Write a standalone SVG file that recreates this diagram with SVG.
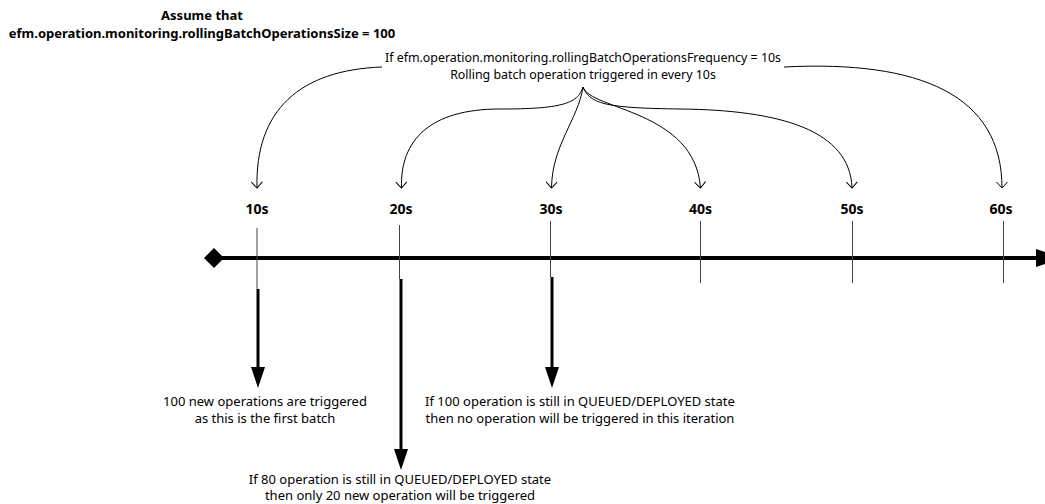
<svg xmlns="http://www.w3.org/2000/svg" width="1045" height="504" viewBox="0 0 1045 504">
  <style>
    text { font-family: "Noto Sans", "Open Sans", "Liberation Sans", sans-serif; fill: #000; }
    .note { font-size: 13px; text-anchor: middle; }
    .top { font-size: 12.4px; }
    .title { font-size: 13px; font-weight: 700; text-anchor: middle; }
    .lbl { font-size: 14px; font-weight: 700; text-anchor: middle; }
    .tick { stroke: #444; stroke-width: 1; fill: none; }
    .curve { stroke: #000; stroke-width: 1; fill: none; marker-end: url(#open); }
    .thick { stroke: #000; stroke-width: 3; fill: none; marker-end: url(#block); }
  </style>
  <defs>
    <marker id="open" viewBox="0 0 8 12" refX="7" refY="6" markerWidth="8" markerHeight="12" markerUnits="userSpaceOnUse" orient="auto">
      <path d="M1,0.5 L7,6 L1,11.5" fill="none" stroke="#000" stroke-width="1"/>
    </marker>
    <marker id="block" viewBox="0 0 21 14" refX="0" refY="7" markerWidth="21" markerHeight="14" markerUnits="userSpaceOnUse" orient="auto">
      <path d="M0,0 L21,7 L0,14 z" fill="#000"/>
    </marker>
  </defs>
  <rect width="1045" height="504" fill="#fff"/>

  <g id="title">
    <text class="title" x="202" y="20">Assume that</text>
    <text class="title" x="202" y="38">efm.operation.monitoring.rollingBatchOperationsSize = 100</text>
  </g>

  <g id="frequency-note">
    <text class="note top" x="583" y="62">If efm.operation.monitoring.rollingBatchOperationsFrequency = 10s</text>
    <text class="note top" x="583" y="79">Rolling batch operation triggered in every 10s</text>
  </g>

  <g id="timeline">
    <line x1="222" y1="258" x2="1038" y2="258" stroke="#000" stroke-width="4"/>
    <polygon points="214,248 224,258 214,268 204,258" fill="#000"/>
    <polygon points="1036,249 1064,258 1036,267" fill="#000"/>
  </g>

  <g id="tick-10s">
    <line class="tick" x1="257" y1="228" x2="257" y2="289"/>
    <text class="lbl" x="257" y="214">10s</text>
  </g>
  <g id="tick-20s">
    <line class="tick" x1="399.5" y1="225" x2="399.5" y2="279"/>
    <text class="lbl" x="401" y="214">20s</text>
  </g>
  <g id="tick-30s">
    <line class="tick" x1="550.5" y1="221" x2="550.5" y2="277"/>
    <text class="lbl" x="551" y="214">30s</text>
  </g>
  <g id="tick-40s">
    <line class="tick" x1="700.5" y1="221" x2="700.5" y2="283"/>
    <text class="lbl" x="700.5" y="214">40s</text>
  </g>
  <g id="tick-50s">
    <line class="tick" x1="852.5" y1="221" x2="852.5" y2="283"/>
    <text class="lbl" x="852" y="214">50s</text>
  </g>
  <g id="tick-60s">
    <line class="tick" x1="1003.5" y1="221" x2="1003.5" y2="283"/>
    <text class="lbl" x="1001" y="214">60s</text>
  </g>

  <g id="note-10s">
    <text class="note" x="265" y="406">100 new operations are triggered</text>
    <text class="note" x="265" y="423">as this is the first batch</text>
  </g>
  <g id="note-20s">
    <text class="note" x="400" y="484">If 80 operation is still in QUEUED/DEPLOYED state</text>
    <text class="note" x="400" y="500">then only 20 new operation will be triggered</text>
  </g>
  <g id="note-30s">
    <text class="note" x="580" y="406">If 100 operation is still in QUEUED/DEPLOYED state</text>
    <text class="note" x="580" y="423">then no operation will be triggered in this iteration</text>
  </g>

  <g id="connectors">
    <path class="curve" d="M382,67 C300,70 255,110 257,188"/>
    <path class="curve" d="M583,87 C578,104 560,109 500,109 C430,109 400,140 401.5,188"/>
    <path class="curve" d="M583,87 C578,120 552,145 551.5,188"/>
    <path class="curve" d="M583,87 C590,110 695,110 700.5,188"/>
    <path class="curve" d="M583,87 C590,105 610,108 680,109 C780,110 850,130 852,188"/>
    <path class="curve" d="M784,67 C920,60 1002,95 1002,188"/>
    <path class="thick" d="M258,289 L258,367"/>
    <path class="thick" d="M401,279 L401,449"/>
    <path class="thick" d="M552,277 L552,367"/>
  </g>
</svg>
